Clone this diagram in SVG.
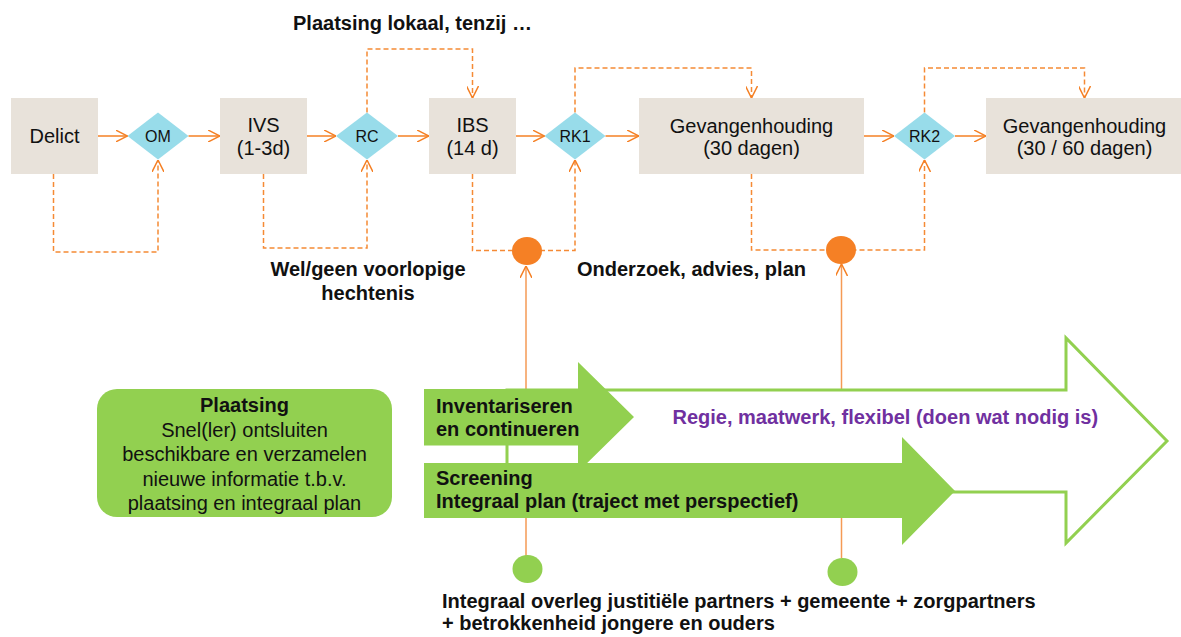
<svg xmlns="http://www.w3.org/2000/svg" width="1181" height="637" viewBox="0 0 1181 637">
<style>
.box{fill:#E8E2DA;}
.dia{fill:#98DCEA;}
.t{font-family:"Liberation Sans",Arial,sans-serif;font-size:20px;fill:#111;}
.td{font-family:"Liberation Sans",Arial,sans-serif;font-size:16px;fill:#111;}
.b{font-weight:bold;}
.c{text-anchor:middle;}
.solid{fill:none;stroke:#F58025;stroke-width:1.5;}
.dash{fill:none;stroke:#F58A35;stroke-width:1.5;stroke-dasharray:5 3;}
.thin{fill:none;stroke:#F59A55;stroke-width:1.5;}
.green{fill:#92D050;}
</style>
<defs>
<marker id="ah" viewBox="0 0 12 12" refX="12" refY="6" markerWidth="12" markerHeight="12" markerUnits="userSpaceOnUse" orient="auto">
<path d="M0,0 L12,6 L0,12" fill="none" stroke="#F58025" stroke-width="1.5"/>
</marker>
</defs>
<rect width="1181" height="637" fill="#fff"/>

<g id="connectors">
<line class="solid" x1="98" y1="136" x2="127.5" y2="136" marker-end="url(#ah)"/>
<line class="solid" x1="188.5" y1="136" x2="220" y2="136" marker-end="url(#ah)"/>
<line class="solid" x1="307" y1="136" x2="336" y2="136" marker-end="url(#ah)"/>
<line class="solid" x1="398" y1="136" x2="429" y2="136" marker-end="url(#ah)"/>
<line class="solid" x1="516" y1="136" x2="544.5" y2="136" marker-end="url(#ah)"/>
<line class="solid" x1="605.5" y1="136" x2="639" y2="136" marker-end="url(#ah)"/>
<line class="solid" x1="864" y1="136" x2="894" y2="136" marker-end="url(#ah)"/>
<line class="solid" x1="955" y1="136" x2="986" y2="136" marker-end="url(#ah)"/>
<path class="dash" d="M53.5,174 V252 H158 V160" marker-end="url(#ah)"/>
<path class="dash" d="M263.5,174 V248 H367 V160" marker-end="url(#ah)"/>
<path class="dash" d="M367,112.5 V49 H472.5 V98" marker-end="url(#ah)"/>
<path class="dash" d="M472.5,174 V250.5 H575 V160" marker-end="url(#ah)"/>
<path class="dash" d="M575,112.5 V68 H751.5 V98" marker-end="url(#ah)"/>
<path class="dash" d="M751.5,174 V250 H924.5 V160" marker-end="url(#ah)"/>
<path class="dash" d="M924.5,112.5 V68 H1084.5 V98" marker-end="url(#ah)"/>
<line class="thin" x1="526" y1="556" x2="526" y2="266" marker-end="url(#ah)"/>
<line class="thin" x1="841.5" y1="558" x2="841.5" y2="264" marker-end="url(#ah)"/>
</g>

<g id="delict"><rect class="box" x="11" y="98" width="87" height="76"/><text class="t c" x="54.5" y="143">Delict</text></g>
<g id="om"><polygon class="dia" points="127.5,136 158,112.5 188.5,136 158,159.5"/><text class="td c" x="158" y="141.5">OM</text></g>
<g id="ivs"><rect class="box" x="220" y="98" width="87" height="76"/><text class="t c" x="263.5" y="132">IVS</text><text class="t c" x="263.5" y="155">(1-3d)</text></g>
<g id="rc"><polygon class="dia" points="336,136 367,112.5 398,136 367,159.5"/><text class="td c" x="367" y="141.5">RC</text></g>
<g id="ibs"><rect class="box" x="429" y="98" width="87" height="76"/><text class="t c" x="472.5" y="132">IBS</text><text class="t c" x="472.5" y="155">(14 d)</text></g>
<g id="rk1"><polygon class="dia" points="544.5,136 575,112.5 605.5,136 575,159.5"/><text class="td c" x="575" y="141.5">RK1</text></g>
<g id="gev1"><rect class="box" x="639" y="98" width="225" height="76"/><text class="t c" x="751.5" y="133">Gevangenhouding</text><text class="t c" x="751.5" y="155">(30 dagen)</text></g>
<g id="rk2"><polygon class="dia" points="894,136 924.5,112.5 955,136 924.5,159.5"/><text class="td c" x="924.5" y="141.5">RK2</text></g>
<g id="gev2"><rect class="box" x="986" y="98" width="197" height="76"/><text class="t c" x="1084.5" y="133">Gevangenhouding</text><text class="t c" x="1084.5" y="155">(30 / 60 dagen)</text></g>

<g id="circle1"><ellipse cx="527" cy="251" rx="15" ry="14" fill="#F58025"/></g>
<g id="circle2"><ellipse cx="841" cy="250" rx="15" ry="14" fill="#F58025"/></g>
<g id="gcircle1"><ellipse class="green" cx="527.5" cy="569" rx="15" ry="14"/></g>
<g id="gcircle2"><ellipse class="green" cx="842.5" cy="572" rx="15" ry="14"/></g>

<g id="labels">
<text class="t b" x="293" y="30">Plaatsing lokaal, tenzij …</text>
<text class="t b c" x="368" y="276">Wel/geen voorlopige</text>
<text class="t b c" x="368" y="300">hechtenis</text>
<text class="t b" x="577" y="276">Onderzoek, advies, plan</text>
<text class="t b" x="442" y="608">Integraal overleg justitiële partners + gemeente + zorgpartners</text>
<text class="t b" x="442" y="630">+ betrokkenheid jongere en ouders</text>
</g>

<g id="regie">
<path d="M507,390 H1066 V338 L1167,441 L1066,543 V492 H507 Z" fill="#fff" stroke="#92D050" stroke-width="3"/>
<text class="t b" x="672.5" y="424" style="fill:#7030A0">Regie, maatwerk, flexibel (doen wat nodig is)</text>
</g>
<g id="inventariseren">
<path class="green" d="M424,389 H578 V362 L634,417 L578,472 V445.5 H424 Z"/>
<text class="t b" x="436" y="413">Inventariseren</text>
<text class="t b" x="436" y="436">en continueren</text>
</g>
<g id="screening">
<path class="green" d="M424,463 H902 V437 L955,491 L902,545 V518 H424 Z"/>
<text class="t b" x="436" y="485">Screening</text>
<text class="t b" x="436" y="508">Integraal plan (traject met perspectief)</text>
</g>

<g id="plaatsing">
<rect class="green" x="97" y="389" width="295" height="128" rx="20"/>
<text class="t b c" x="244.5" y="412">Plaatsing</text>
<text class="t c" x="244.5" y="436.5">Snel(ler) ontsluiten</text>
<text class="t c" x="244.5" y="461">beschikbare en verzamelen</text>
<text class="t c" x="244.5" y="485.5">nieuwe informatie t.b.v.</text>
<text class="t c" x="244.5" y="510">plaatsing en integraal plan</text>
</g>
</svg>
